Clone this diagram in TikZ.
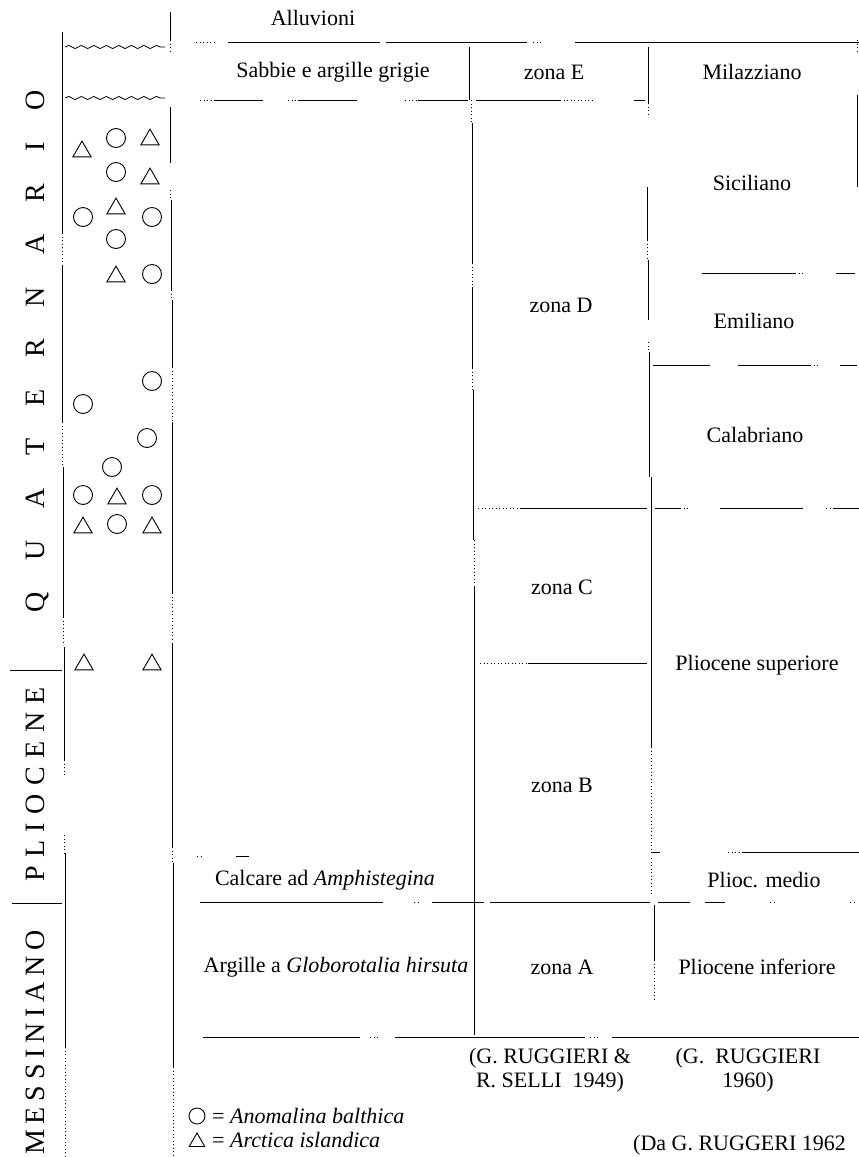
\documentclass[tikz,border=0pt]{standalone}
\usepackage{fontspec}
\setmainfont{Liberation Serif}
\usetikzlibrary{shapes.geometric,decorations.pathmorphing}
\newcommand{\gq}{\kern32pt}
\newcommand{\gp}{\kern8.5pt}
\newcommand{\gm}{\kern5.8pt}
\begin{document}
\begin{tikzpicture}[x=1pt,y=-1pt,
  rule/.style={line width=0.9pt},
  dotrule/.style={line width=0.7pt, dash pattern=on 1pt off 2.5pt},
  lbl/.style={font=\fontsize{22}{24}\selectfont, inner sep=0pt},
  era/.style={font=\fontsize{28}{30}\selectfont, rotate=90, anchor=base, inner sep=0pt},
  circ/.style={circle, draw, line width=0.9pt, minimum size=19pt, inner sep=0pt},
  tri/.style={regular polygon, regular polygon sides=3, draw, line width=0.9pt, minimum size=21pt, inner sep=0pt},
  wave/.style={decorate, decoration={snake, amplitude=1.6pt, segment length=12.5pt}, line width=0.8pt}]
\useasboundingbox (0,0) rectangle (859,1157);

% ---------- left column: era labels ----------
\node[era] (quat) at (44,351.5) {Q\gq U\gq A\gq T\gq E\gq R\gq N\gq A\gq R\gq I\gq O};
\node[era] (plio) at (44,784.5) {P\gp L\gp I\gp O\gp C\gp E\gp N\gp E};
\node[era] (mess) at (44,1042.5) {M\gm E\gm S\gm S\gm I\gm N\gm I\gm A\gm N\gm O};
\draw[rule] (10,670) -- (62,670);
\draw[rule] (12,903) -- (62,903);

% left column border x=62
\draw[rule] (62,32) -- (62,233);
\draw[dotrule] (62,233) -- (62,263);
\draw[rule] (62,265) -- (62,422);
\draw[dotrule] (62,422) -- (62,467);
\draw[rule] (63,467) -- (63,617);
\draw[dotrule] (63,617) -- (63,645);
\draw[rule] (64,647) -- (64,760);
\draw[dotrule] (64,760) -- (64,775);
\draw[dotrule] (64,835) -- (64,853);
\draw[rule] (65,853) -- (65,1047);
\draw[dotrule] (65,1047) -- (65,1157);

% fossil column border x=171
\draw[rule] (170,12) -- (170,40);
\draw[dotrule] (170,40) -- (170,53);
\draw[rule] (170,107) -- (170,163);
\draw[dotrule] (170,190) -- (170,200);
\draw[rule] (171,200) -- (171,290);
\draw[dotrule] (171,290) -- (171,300);
\draw[rule] (172,300) -- (172,367);
\draw[dotrule] (172,367) -- (172,420);
\draw[rule] (172,422) -- (172,593);
\draw[dotrule] (172,593) -- (172,640);
\draw[rule] (172,643) -- (172,847);
\draw[dotrule] (172,847) -- (172,863);
\draw[rule] (173,863) -- (173,1067);
\draw[dotrule] (173,1067) -- (173,1157);

% unconformities
\coordinate (w1a) at (65,47); \coordinate (w1b) at (165,47);
\coordinate (w2a) at (65,98); \coordinate (w2b) at (165,98);
\draw[wave] (w1a) -- (w1b);
\draw[wave] (w2a) -- (w2b);

% fossils
\node[tri]  (t1) at (82,151.6) {};
\node[circ] (c1) at (116,138) {};
\node[tri]  (t2) at (150,139.6) {};
\node[circ] (c2) at (116,172) {};
\node[tri]  (t3) at (150,178.6) {};
\node[circ] (c3) at (83,217) {};
\node[tri]  (t4) at (116,208.6) {};
\node[circ] (c4) at (152,217) {};
\node[circ] (c5) at (116,239) {};
\node[tri]  (t5) at (116,276.6) {};
\node[circ] (c6) at (152,274) {};
\node[circ] (c7) at (152,381) {};
\node[circ] (c8) at (83,404) {};
\node[circ] (c9) at (147,438) {};
\node[circ] (c10) at (112,467) {};
\node[circ] (c11) at (83,495) {};
\node[tri]  (t6) at (117,498.6) {};
\node[circ] (c12) at (152,495) {};
\node[tri]  (t7) at (83,527.6) {};
\node[circ] (c13) at (117,524) {};
\node[tri]  (t8) at (152,527.6) {};
\node[tri]  (t9) at (84,664.6) {};
\node[tri]  (t10) at (152,664.6) {};

% ---------- horizontal rules of the table ----------
% y=42
\draw[dotrule] (196,42) -- (214,42);
\draw[rule] (228,42) -- (380,42);
\draw[rule] (386,42) -- (527,42);
\draw[dotrule] (533,42) -- (541,42);
\draw[rule] (575,42) -- (859,42);
% y=100
\draw[dotrule] (200,100) -- (215,100);
\draw[rule] (215,100) -- (263,100);
\draw[dotrule] (288,100) -- (298,100);
\draw[rule] (298,100) -- (357,100);
\draw[dotrule] (405,100) -- (418,100);
\draw[rule] (418,100) -- (468,100);
\draw[rule] (476,100) -- (560,100);
\draw[dotrule] (560,100) -- (592,100);
\draw[rule] (634,100) -- (645,100);
% y=273
\draw[rule] (702,273) -- (795,273);
\draw[dotrule] (795,273) -- (804,273);
\draw[rule] (836,273) -- (855,273);
% y=365
\draw[rule] (653,365) -- (710,365);
\draw[rule] (738,365) -- (810,365);
\draw[dotrule] (810,365) -- (818,365);
\draw[rule] (840,365) -- (857,365);
% y=508
\draw[dotrule] (478,508) -- (520,508);
\draw[rule] (520,508) -- (647,508);
\draw[rule] (655,508) -- (680,508);
\draw[dotrule] (680,508) -- (690,508);
\draw[rule] (720,508) -- (803,508);
\draw[dotrule] (826,508) -- (834,508);
\draw[rule] (834,508) -- (859,508);
% y=663
\draw[dotrule] (480,663) -- (528,663);
\draw[rule] (528,663) -- (647,663);
% y=852
\draw[rule] (651,852) -- (660,852);
\draw[dotrule] (728,852) -- (742,852);
\draw[rule] (742,852) -- (859,852);
\draw[dotrule] (197,856) -- (201,856);
\draw[rule] (236,856) -- (249,856);
% y=902
\draw[rule] (200,902) -- (383,902);
\draw[dotrule] (414,902) -- (419,902);
\draw[rule] (432,902) -- (484,902);
\draw[rule] (490,902) -- (650,902);
\draw[rule] (658,902) -- (690,902);
\draw[rule] (705,902) -- (725,902);
\draw[dotrule] (770,902) -- (775,902);
\draw[dotrule] (850,902) -- (855,902);
% y=1037
\draw[rule] (203,1037) -- (360,1037);
\draw[dotrule] (370,1037) -- (378,1037);
\draw[rule] (395,1037) -- (585,1037);
\draw[dotrule] (590,1037) -- (600,1037);
\draw[rule] (612,1037) -- (859,1037);

% ---------- vertical rules of the table ----------
% left of zona column
\draw[rule] (469,47) -- (469,100);
\draw[dotrule] (471,100) -- (471,123);
\draw[rule] (472,123) -- (472,263);
\draw[dotrule] (472,263) -- (472,287);
\draw[rule] (472,287) -- (472,368);
\draw[dotrule] (472,368) -- (472,390);
\draw[rule] (473,390) -- (473,540);
\draw[dotrule] (474,540) -- (474,587);
\draw[rule] (474,587) -- (474,1035);
% left of stage column
\draw[rule] (648,47) -- (648,103);
\draw[dotrule] (648,103) -- (648,117);
\draw[rule] (647,187) -- (647,240);
\draw[dotrule] (647,240) -- (647,260);
\draw[rule] (648,260) -- (648,320);
\draw[dotrule] (648,342) -- (648,350);
\draw[rule] (649,352) -- (649,477);
\draw[rule] (651,477) -- (651,747);
\draw[dotrule] (651,747) -- (651,852);
\draw[dotrule] (651,858) -- (651,896);
\draw[rule] (654,905) -- (654,960);
\draw[dotrule] (654,960) -- (654,1000);
% right edge
\draw[dotrule] (857,40) -- (857,52);
\draw[rule] (857,95) -- (857,187);

% ---------- labels ----------
\node[lbl] (alluv) at (313,18) {Alluvioni};
\node[lbl] (sabbie) at (333,72) {Sabbie e argille grigie};
\node[lbl] (zonaE) at (554,72) {zona E};
\node[lbl] (milaz) at (752,72) {Milazziano};
\node[lbl] (sicil) at (752,183) {Siciliano};
\node[lbl] (zonaD) at (561,305) {zona D};
\node[lbl] (emil) at (754,321) {Emiliano};
\node[lbl] (calab) at (755,435) {Calabriano};
\node[lbl] (zonaC) at (562,587) {zona C};
\node[lbl] (psup) at (757,665) {Pliocene superiore};
\node[lbl] (zonaB) at (562,785) {zona B};
\node[lbl] (calc) at (325,880) {Calcare ad \textit{Amphistegina}};
\node[lbl] (pmed) at (764,880) {Plioc. medio};
\node[lbl] (argil) at (336,967) {Argille a \textit{Globorotalia hirsuta}};
\node[lbl] (zonaA) at (562,967) {zona A};
\node[lbl] (pinf) at (757,967) {Pliocene inferiore};
\node[lbl, align=center] (ref1) at (550,1070) {(G. RUGGIERI \&\\R. SELLI\ \ 1949)};
\node[lbl, align=center] (ref2) at (748,1070) {(G.\ \ RUGGIERI\\1960)};

% legend
\node[circ, minimum size=16pt] (lc) at (197,1116) {};
\node[tri, minimum size=18pt] (lt) at (197,1142) {};
\node[lbl, anchor=west] (lctext) at (212,1116) {= \textit{Anomalina balthica}};
\node[lbl, anchor=west] (lttext) at (212,1140) {= \textit{Arctica islandica}};

% source
\node[lbl, anchor=west] (src) at (633,1145) {(Da G. RUGGERI 1962};
\end{tikzpicture}
\end{document}
